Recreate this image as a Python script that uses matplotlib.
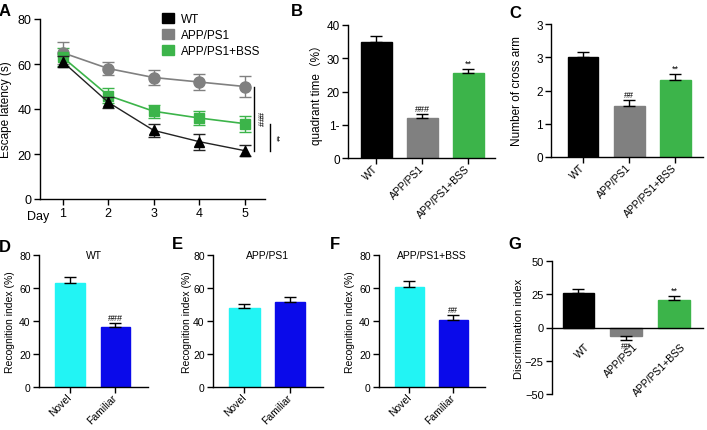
import matplotlib
matplotlib.use("Agg")
import matplotlib.pyplot as plt
import matplotlib.transforms as mtransforms
from matplotlib.patches import Patch
import numpy as np

plt.rcParams['font.family'] = ['Liberation Sans', 'Noto Sans CJK SC', 'DejaVu Sans']
plt.rcParams['axes.linewidth'] = 1.0

# ---- data ----
days = [1, 2, 3, 4, 5]
groups = ['WT', 'APP/PS1', 'APP/PS1+BSS']
latency_wt = [61, 43, 30.5, 25.5, 21.5]
latency_wt_err = [2.5, 2.5, 3, 3.5, 2.5]
latency_app = [65, 58, 54, 52, 50]
latency_app_err = [5, 3, 3.5, 3.5, 4.5]
latency_bss = [63, 46, 39, 36, 33.5]
latency_bss_err = [4, 3.5, 3, 3, 3.5]

quadrant = [35, 12, 25.5]
quadrant_err = [1.8, 1.2, 1.4]
quadrant_sig = ['', '###', '**']

cross_arm = [3.0, 1.52, 2.32]
cross_arm_err = [0.17, 0.18, 0.17]
cross_arm_sig = ['', '##', '**']

objects = ['Novel', 'Familiar']
recog_wt = [63, 36.5]
recog_wt_err = [3.5, 2.5]
recog_app = [48, 51.5]
recog_app_err = [2.5, 2.8]
recog_bss = [60.5, 40.5]
recog_bss_err = [3.5, 3]
recog_sig = [['', '###'], ['', ''], ['', '##']]

discrim = [26, -6.5, 20.5]
discrim_err = [3, 3, 3]
discrim_sig = ['', '##', '**']

c_black = '#000000'
c_gray = '#808080'
c_green = '#3CB44A'
c_cyan = '#22F4F4'
c_blue = '#0A0AEA'
group_colors = [c_black, c_gray, c_green]
obj_colors = [c_cyan, c_blue]

W, H = 707, 431
fig = plt.figure(figsize=(W / 100, H / 100), dpi=100)


def px_axes(x0, y0, x1, y1):
    return fig.add_axes([x0 / W, 1 - y1 / H, (x1 - x0) / W, (y1 - y0) / H])


def style(ax, fs):
    for s in ['top', 'right']:
        ax.spines[s].set_visible(False)
    ax.tick_params(direction='out', length=4, width=1, labelsize=fs, pad=2)


def ylabel_at(ax, text, xpx, box, fs):
    # xpx is the right edge of the rotated label, in pixels
    ax.set_ylabel(text, fontsize=fs)
    x0, x1 = box[0], box[2]
    ax.yaxis.set_label_coords((xpx - x0) / (x1 - x0), 0.5)


def bar_panel(ax, box, vals, errs, colors, labels, sig, fs, sig_off):
    x = np.arange(len(vals))
    lower = [e if v < 0 else 0 for v, e in zip(vals, errs)]
    upper = [0 if v < 0 else e for v, e in zip(vals, errs)]
    ax.bar(x, vals, width=0.66, color=colors, edgecolor=colors, zorder=2)
    ax.errorbar(x, vals, yerr=[lower, upper], fmt='none', ecolor='black',
                elinewidth=1, capsize=4, capthick=1, zorder=3)
    for xi, v, e, s in zip(x, vals, errs, sig):
        if s:
            if v >= 0:
                ax.text(xi, v + e + sig_off, s, ha='center', va='bottom', fontsize=6.5)
            else:
                ax.text(xi, v - e - sig_off, s, ha='center', va='top', fontsize=6.5)
    ax.set_xticks(x)
    ax.set_xticklabels(labels, rotation=45, ha='right', rotation_mode='anchor',
                       va='center', fontsize=fs)


# ---- A: escape latency ----
boxA = (40, 20, 265, 200)
axA = px_axes(*boxA)
style(axA, 9)
axA.errorbar(days, latency_wt, yerr=latency_wt_err, color='#222222', marker='^',
             ms=7, lw=1, capsize=4, capthick=1, elinewidth=1, mec='black', mfc='black', zorder=3)
axA.errorbar(days, latency_app, yerr=latency_app_err, color=c_gray, marker='o',
             ms=8, lw=1.2, capsize=4, capthick=1, elinewidth=1, zorder=2)
axA.errorbar(days, latency_bss, yerr=latency_bss_err, color=c_green, marker='s',
             ms=7, lw=1.2, capsize=4, capthick=1, elinewidth=1, zorder=2)
axA.set_xlim(0.5, 5.45)
axA.set_ylim(0, 80)
axA.set_yticks([0, 20, 40, 60, 80])
axA.set_xticks(days)
ylabel_at(axA, 'Escape latency (s)', 12, boxA, 8.5)
fig.text(38 / W, 1 - 217 / H, 'Day', ha='center', va='center', fontsize=9)
# significance brackets
axA.plot([5.2, 5.2], [latency_app[-1], latency_wt[-1]], color='black', lw=1, clip_on=False)
axA.text(5.33, (latency_app[-1] + latency_wt[-1]) / 2, '###', rotation=-90,
         ha='center', va='center', fontsize=6.5)
axA.plot([5.56, 5.56], [latency_bss[-1], latency_wt[-1]], color='black', lw=1, clip_on=False)
axA.text(5.69, (latency_bss[-1] + latency_wt[-1]) / 2, '**', rotation=-90,
         ha='center', va='center', fontsize=6.5)
handles = [Patch(color=c, label=g) for c, g in zip(group_colors, groups)]
axA.legend(handles=handles, loc='upper left', bbox_to_anchor=(0.52, 1.06),
           frameon=False, fontsize=8.5, handlelength=1.0, handleheight=0.9,
           handletextpad=0.6, labelspacing=0.35, borderaxespad=0)

# ---- B: quadrant time ----
boxB = (348, 26, 495, 159)
axB = px_axes(*boxB)
style(axB, 8.5)
bar_panel(axB, boxB, quadrant, quadrant_err, group_colors, groups, quadrant_sig, 7.5, 0.3)
axB.set_xlim(-0.62, 2.58)
axB.set_ylim(0, 40)
axB.set_yticks([0, 10, 20, 30, 40])
axB.set_yticklabels(['0', '1-', '20', '30', '40'])
ylabel_at(axB, 'quadrant time（%）', 323, boxB, 8.5)

# ---- C: cross arm ----
boxC = (551, 25, 703, 158)
axC = px_axes(*boxC)
style(axC, 8.5)
bar_panel(axC, boxC, cross_arm, cross_arm_err, group_colors, groups, cross_arm_sig, 7.5, 0.03)
axC.set_xlim(-0.7, 2.6)
axC.set_ylim(0, 4)
axC.set_yticks([0, 1, 2, 3, 4])
axC.set_yticklabels(['0', '1', '2', '3', '3'])
ylabel_at(axC, 'Number of cross arm', 523, boxC, 8.5)

# ---- D, E, F: recognition index ----
recog_sets = [
    ('WT', recog_wt, recog_wt_err, (39, 256, 148, 388), 15),
    ('APP/PS1', recog_app, recog_app_err, (213, 256, 323, 388), 192),
    ('APP/PS1+BSS', recog_bss, recog_bss_err, (379, 256, 485, 388), 355),
]
for (title, vals, errs, box, ylx), sig in zip(recog_sets, recog_sig):
    ax = px_axes(*box)
    style(ax, 7.5)
    bar_panel(ax, box, vals, errs, obj_colors, objects, sig, 7.5, 0.6)
    ax.set_xlim(-0.69, 1.72)
    ax.set_ylim(0, 80)
    ax.set_yticks([0, 20, 40, 60, 80])
    ax.text(0.5, 1.0, title, transform=ax.transAxes, ha='center', va='center', fontsize=7.5)
    ylabel_at(ax, 'Recognition index (%)', ylx, box, 7.5)

# ---- G: discrimination index ----
boxG = (552, 262, 703, 395)
axG = px_axes(*boxG)
style(axG, 8)
axG.spines['bottom'].set_position(('data', 0))
bar_panel(axG, boxG, discrim, discrim_err, group_colors, groups, discrim_sig, 7.5, 0.8)
axG.tick_params(axis='x', length=0, pad=12)
shift = mtransforms.ScaledTranslation(10 / 100, 0, fig.dpi_scale_trans)
for lab in axG.get_xticklabels():
    lab.set_transform(lab.get_transform() + shift)
axG.set_xlim(-0.55, 2.6)
axG.set_ylim(-50, 50)
axG.set_yticks([-50, -25, 0, 25, 50])
ylabel_at(axG, 'Discrimination index', 524, boxG, 8)

# ---- panel letters ----
for letter, xp, yp in [('A', 5, 12), ('B', 297, 12), ('C', 515, 14),
                       ('D', 5, 248), ('E', 177, 245), ('F', 335, 245), ('G', 515, 245)]:
    fig.text(xp / W, 1 - yp / H, letter, fontsize=12, fontweight='bold',
             ha='center', va='center')

fig.savefig('out.png', dpi=100)
